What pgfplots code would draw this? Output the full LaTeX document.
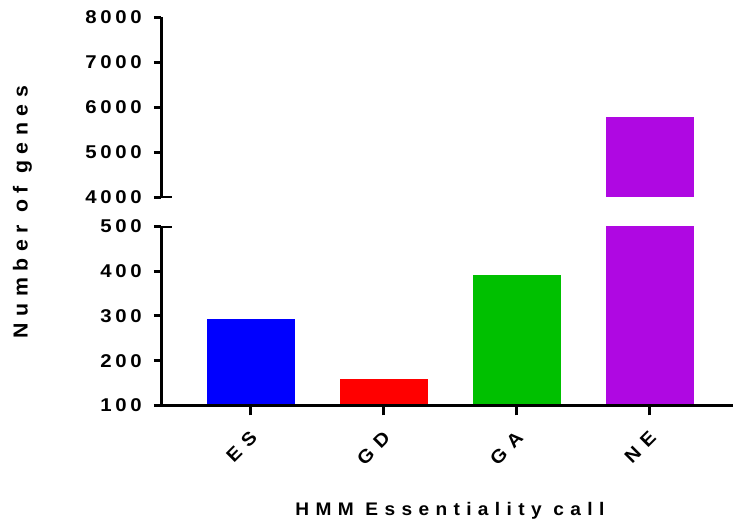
\documentclass[border=0pt]{standalone}
\usepackage{pgfplots}
\pgfplotsset{compat=1.18}
\usepackage{fontspec}
\setmainfont{Liberation Sans}[LetterSpace=35, FakeStretch=1.05]
\newfontfamily\tickfont{Liberation Sans}[LetterSpace=20, FakeStretch=1.1]
\newfontfamily\xtickfont{Liberation Sans}[LetterSpace=40, FakeStretch=1.1]
\newfontfamily\ylabfont{Liberation Sans}[LetterSpace=32, FakeStretch=1.05]
\definecolor{esblue}{RGB}{0,0,255}
\definecolor{gdred}{RGB}{255,0,0}
\definecolor{gagreen}{RGB}{0,192,0}
\definecolor{nepurple}{RGB}{175,8,226}
\begin{document}
\begin{tikzpicture}
\path[use as bounding box] (0pt,0pt) rectangle (734pt,529pt);
\pgfplotsset{
  brk/.style={
    scale only axis, width=572pt,
    xmin=-0.674, xmax=3.626,
    axis line style={line width=3pt, -, black},
    tick style={line width=3pt, black},
    tick align=outside,
    major tick length=7pt,
    axis on top,
    /pgf/number format/assume math mode=true,
    /pgf/number format/set thousands separator={},
    yticklabel style={font=\tickfont\fontsize{18.5}{18.5}\selectfont\bfseries, inner sep=0pt, xshift=-12pt},
  },
}
% lower panel
\begin{axis}[brk, name=low, at={(161pt,123.6pt)}, anchor=south west,
  height=178.8pt,
  ymin=100, ymax=500, ytick={100,200,300,400,500},
  axis x line*=bottom, axis y line*=left,
  xtick={0,1,2,3}, xticklabels={ES,GD,GA,NE},
  xtick style={/pgfplots/major tick length=10pt},
  xticklabel style={font=\xtickfont\fontsize{18.5}{18.5}\selectfont\bfseries, xshift=-1.5pt, yshift=-17.5pt, rotate=45, anchor=north east, inner sep=0pt},
  xlabel={HMM Essentiality call},
  xlabel style={font=\fontsize{18.2}{18.2}\selectfont\bfseries, at={(axis description cs:0.505,0)}, anchor=base, yshift=-110.6pt},
]
\addplot[ybar, bar width=88pt, bar shift=0pt, fill=esblue, draw=none] coordinates {(0,294)};
\addplot[ybar, bar width=88pt, bar shift=0pt, fill=gdred, draw=none] coordinates {(1,158)};
\addplot[ybar, bar width=88pt, bar shift=0pt, fill=gagreen, draw=none] coordinates {(2,391)};
\addplot[ybar, bar width=88pt, bar shift=0pt, fill=nepurple, draw=none] coordinates {(3,5790)};
\draw[line width=3pt] (axis cs:-0.674,500) ++(-7pt,0pt) -- ++(18pt,0pt);
\end{axis}
% upper panel
\begin{axis}[brk, name=up, at={(161pt,331.7pt)}, anchor=south west,
  height=180pt,
  ymin=4000, ymax=8000, ytick={4000,5000,6000,7000,8000},
  axis y line*=left, axis x line=none, xtick=\empty,
]
\addplot[ybar, bar width=88pt, bar shift=0pt, fill=nepurple, draw=none] coordinates {(3,5790)};
\draw[line width=3pt] (axis cs:-0.674,4000) ++(-7pt,0pt) -- ++(18pt,0pt);
\end{axis}
\node[rotate=90, anchor=base, font=\ylabfont\fontsize{20.3}{20.3}\selectfont\bfseries] at (27.7pt,317pt) {Number of genes};
\end{tikzpicture}
\end{document}
